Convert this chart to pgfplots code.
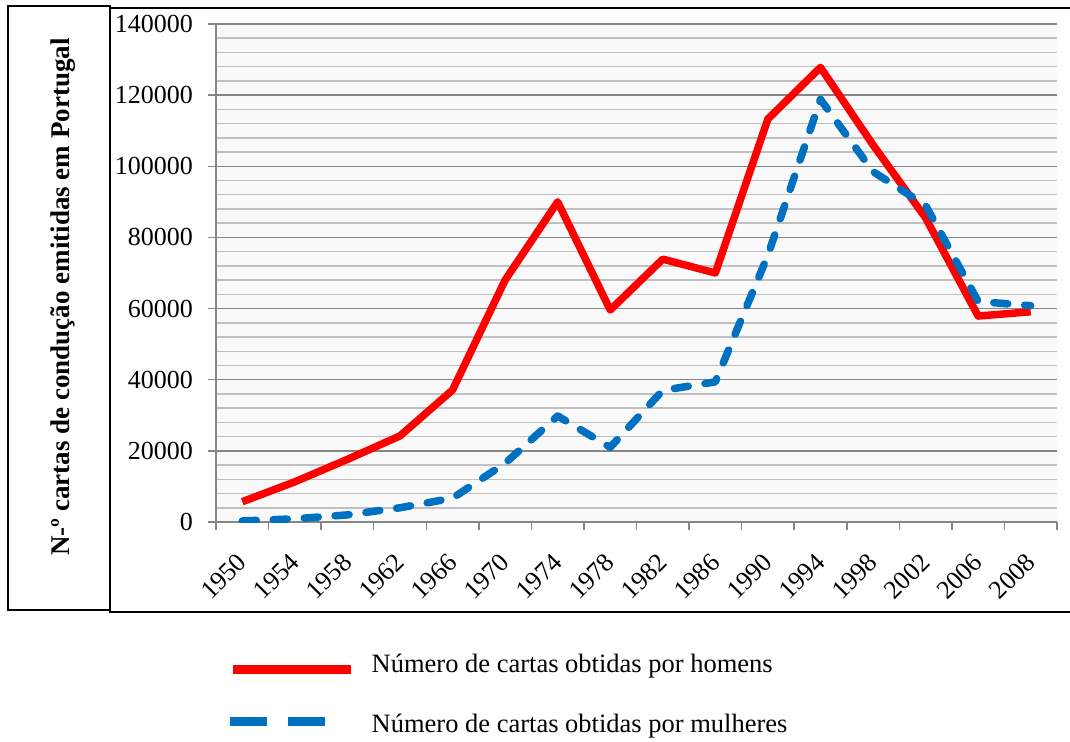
\documentclass[border=0pt]{standalone}
\usepackage{fontspec}
\setmainfont{Liberation Serif}
\usepackage{pgfplots}
\pgfplotsset{compat=1.18}
\definecolor{redline}{RGB}{255,0,0}
\definecolor{blueline}{RGB}{0,112,192}
\definecolor{majgrid}{RGB}{134,134,134}
\definecolor{mingrid}{RGB}{192,192,192}
\definecolor{plotbg}{RGB}{249,249,249}

\begin{document}
\begin{tikzpicture}
\useasboundingbox (-216bp,-220bp) rectangle (854bp,522bp);
\begin{axis}[
    at={(0,0)}, anchor=south west,
    scale only axis, width=841bp, height=498bp,
    xmin=-0.5, xmax=15.5, ymin=0, ymax=140000,
    axis lines=left,
    axis line style={-, draw=majgrid, line width=1.5bp},
    axis background/.style={fill=plotbg},
    tick align=outside,
    major tick length=8bp, minor tick length=8bp,
    tick style={draw=majgrid, line width=1.5bp},
    xtick={0,...,15},
    xticklabels={1950,1954,1958,1962,1966,1970,1974,1978,1982,1986,1990,1994,1998,2002,2006,2008},
    major x tick style={draw=none},
    minor xtick={-0.5,0.5,...,15.5},
    ytick={0,20000,40000,60000,80000,100000,120000,140000},
    yticklabels={0,20000,40000,60000,80000,100000,120000,140000},
    minor ytick={4000,8000,...,136000},
    minor y tick style={draw=none},
    ymajorgrids, yminorgrids,
    major grid style={draw=majgrid, line width=1.5bp},
    minor grid style={draw=mingrid, line width=1.5bp},
    scaled y ticks=false,
    ticklabel style={font=\fontsize{26bp}{31bp}\selectfont},
    yticklabel style={anchor=east, inner sep=0pt, xshift=-15bp},
    xticklabel style={yshift=-28bp, rotate=45, anchor=east, inner sep=0pt},
    legend style={at={(axis description cs:0.0107,-0.2651)}, anchor=north west,
        draw=none, fill=none, inner sep=0pt, row sep=36bp,
        font=\fontsize{26.5bp}{31bp}\selectfont,
        nodes={inner sep=0pt, text height=18bp, text depth=6bp}},
    legend cell align=left,
]
\addplot[redline, line width=7.5bp, line join=round,
    legend image code/.code={\path[draw=none, fill=none] (0bp,-12bp) rectangle (142bp,12bp);
        \draw[redline, line width=9bp] (3bp,-3.5bp) -- (121bp,-3.5bp);}]
    coordinates {
    (0,5700) (1,11300) (2,17600) (3,24200) (4,37100) (5,68000) (6,90000) (7,59600)
    (8,73900) (9,70000) (10,113300) (11,127800) (12,106000) (13,85500) (14,57900) (15,59100)
};
\addlegendentry{Número de cartas obtidas por homens}
\addplot[blueline, line width=7.5bp, line cap=round, line join=round,
    dash pattern=on 14bp off 17bp,
    legend image code/.code={\path[draw=none, fill=none] (0bp,-12bp) rectangle (142bp,12bp);
        \draw[blueline, line width=9bp, line cap=butt, dash pattern=on 37bp off 21bp] (0bp,4.5bp) -- (95bp,4.5bp);}]
    coordinates {
    (0,300) (1,900) (2,2000) (3,4000) (4,6700) (5,16500) (6,29800) (7,21000)
    (8,37000) (9,39400) (10,75000) (11,118800) (12,98500) (13,89000) (14,62000) (15,60800)
};
\addlegendentry{Número de cartas obtidas por mulheres}
\end{axis}
\draw[line width=1.5bp] (-208bp,-88bp) rectangle (-106bp,516bp);
\draw[line width=1.5bp] (854bp,514bp) -- (-106bp,514bp) -- (-106bp,-90bp) -- (854bp,-90bp);
\node[rotate=90, anchor=base west, inner sep=0pt, font=\bfseries\fontsize{27bp}{32bp}\selectfont]
    at (-146bp,-34bp) {N-º cartas de condução emitidas em Portugal};
\end{tikzpicture}
\end{document}
